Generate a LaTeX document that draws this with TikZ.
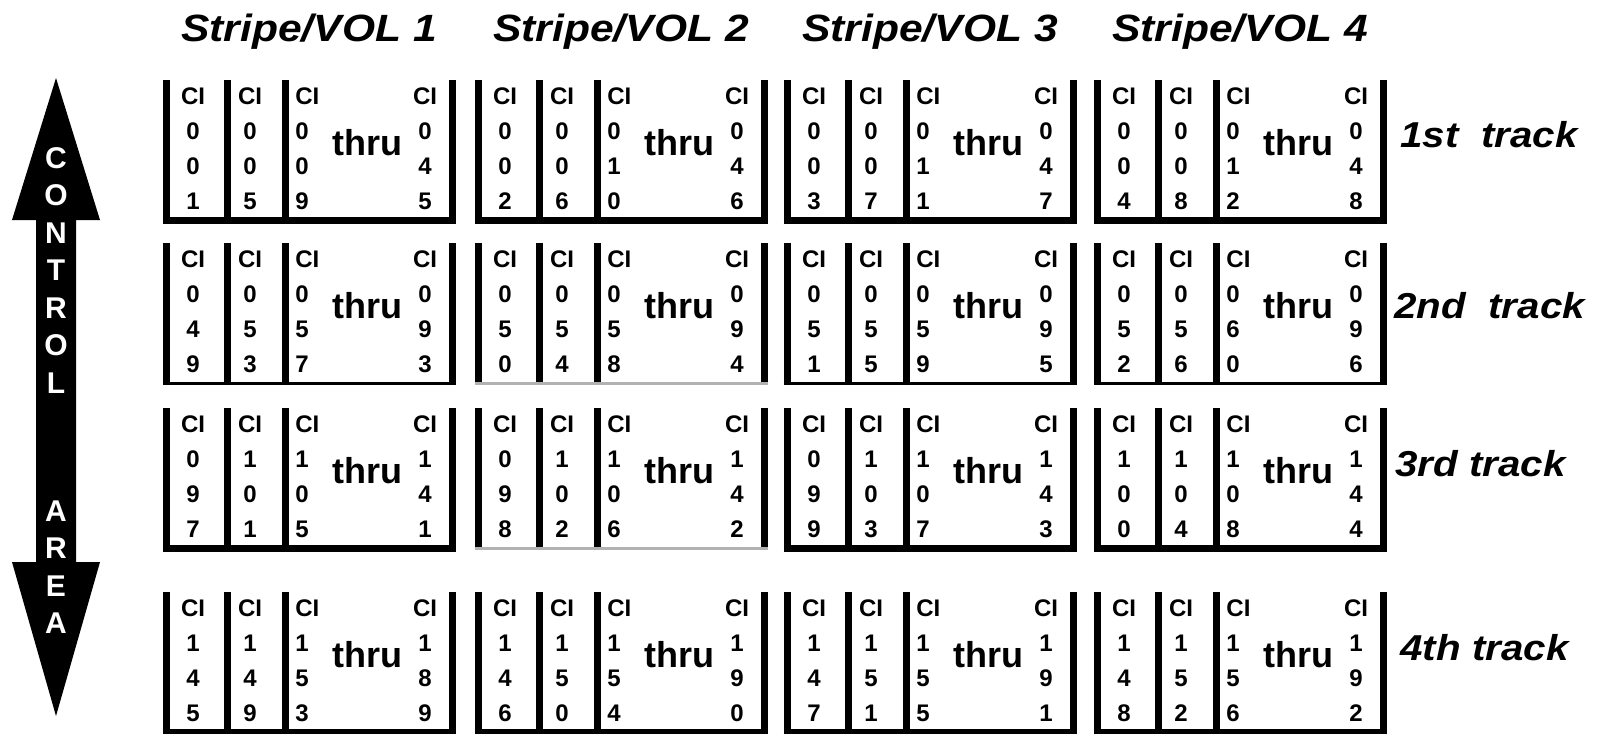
\documentclass[tikz,border=0pt]{standalone}
\usepackage{fontspec}
\setmainfont{Liberation Sans}
\newfontfamily\widefont[FakeStretch=1.12]{Liberation Sans}
\usepackage{tikz}
\usetikzlibrary{positioning}
\tikzstyle{stripebar} = [line width=3.5pt, black]
\tikzstyle{thickbase} = [line width=3.5pt, black]
\tikzstyle{thinbase} = [line width=1.5pt, black]
\tikzstyle{greybase} = [line width=1.5pt, gray!60]
\tikzstyle{cinum} = [inner sep=0pt, anchor=north, align=center, font=\fontsize{12}{17.5}\selectfont\bfseries]
\tikzstyle{cinumleft} = [cinum, anchor=north west, align=left]
\tikzstyle{thrulabel} = [inner sep=0pt, anchor=base, font=\fontsize{18}{18}\selectfont\bfseries]
\tikzstyle{heading} = [inner sep=0pt, anchor=base, font=\widefont\fontsize{19}{19}\selectfont\bfseries\itshape]
\tikzstyle{tracklabel} = [inner sep=0pt, anchor=base west, font=\widefont\fontsize{18}{18}\selectfont\bfseries\itshape]
\tikzstyle{ctrltext} = [inner sep=0pt, anchor=north, align=center, text=white, font=\fontsize{15}{18.75}\selectfont\bfseries]

% one stripe box: name, left x, top y, base style, four columns
\newcommand{\volbox}[8]{%
  \draw [stripebar] (#2,#3) -- (#2,#3+140);
  \draw [stripebar] (#2+61,#3) -- (#2+61,#3+140);
  \draw [stripebar] (#2+119,#3) -- (#2+119,#3+140);
  \draw [stripebar] (#2+286,#3) -- (#2+286,#3+140);
  \draw [#4] (#2-3.5,#3+140) -- (#2+289.5,#3+140);
  \node (#1a) [cinum] at (#2+27,#3+7.5) {CI\\#5};
  \node (#1b) [cinum] at (#2+84,#3+7.5) {CI\\#6};
  \node (#1c) [cinumleft] at (#2+129,#3+7.5) {CI\\#7};
  \node (#1d) [cinum] at (#2+259,#3+7.5) {CI\\#8};
  \node (#1t) [thrulabel] at (#2+201,#3+75) {thru};
}

\begin{document}
\begin{tikzpicture}[x=0.5pt, y=-0.5pt]
\useasboundingbox (0,0) rectangle (1598,733);

% Control area arrow
\fill [black] (56,78) -- (100,220) -- (76,220) -- (76,562) -- (100,562) -- (56,716)
  -- (12,562) -- (36,562) -- (36,220) -- (12,220) -- cycle;
\node (ctrl) [ctrltext] at (56,147) {C\\O\\N\\T\\R\\O\\L};
\node (area) [ctrltext] at (56,500) {A\\R\\E\\A};

% Stripe headings
\node (vol1) [heading] at (309,42) {Stripe/VOL 1};
\node (vol2) [heading] at (621,42) {Stripe/VOL 2};
\node (vol3) [heading] at (930,42) {Stripe/VOL 3};
\node (vol4) [heading] at (1240,42) {Stripe/VOL 4};

% 1st track
\volbox{ta}{166}{80}{thickbase}{0\\0\\1}{0\\0\\5}{0\\0\\9}{0\\4\\5}
\volbox{tb}{478}{80}{thickbase}{0\\0\\2}{0\\0\\6}{0\\1\\0}{0\\4\\6}
\volbox{tc}{787}{80}{thickbase}{0\\0\\3}{0\\0\\7}{0\\1\\1}{0\\4\\7}
\volbox{td}{1097}{80}{thickbase}{0\\0\\4}{0\\0\\8}{0\\1\\2}{0\\4\\8}
\node (track1) [tracklabel] at (1400,148) {1st\ \ track};

% 2nd track
\volbox{ua}{166}{243}{thinbase}{0\\4\\9}{0\\5\\3}{0\\5\\7}{0\\9\\3}
\volbox{ub}{478}{243}{greybase}{0\\5\\0}{0\\5\\4}{0\\5\\8}{0\\9\\4}
\volbox{uc}{787}{243}{thinbase}{0\\5\\1}{0\\5\\5}{0\\5\\9}{0\\9\\5}
\volbox{ud}{1097}{243}{thinbase}{0\\5\\2}{0\\5\\6}{0\\6\\0}{0\\9\\6}
\node (track2) [tracklabel] at (1394,318) {2nd\ \ track};

% 3rd track
\volbox{va}{166}{408}{thickbase}{0\\9\\7}{1\\0\\1}{1\\0\\5}{1\\4\\1}
\volbox{vb}{478}{408}{greybase}{0\\9\\8}{1\\0\\2}{1\\0\\6}{1\\4\\2}
\volbox{vc}{787}{408}{thickbase}{0\\9\\9}{1\\0\\3}{1\\0\\7}{1\\4\\3}
\volbox{vd}{1097}{408}{thickbase}{1\\0\\0}{1\\0\\4}{1\\0\\8}{1\\4\\4}
\node (track3) [tracklabel] at (1395,476) {3rd track};

% 4th track
\volbox{wa}{166}{592}{thickbase}{1\\4\\5}{1\\4\\9}{1\\5\\3}{1\\8\\9}
\volbox{wb}{478}{592}{thickbase}{1\\4\\6}{1\\5\\0}{1\\5\\4}{1\\9\\0}
\volbox{wc}{787}{592}{thickbase}{1\\4\\7}{1\\5\\1}{1\\5\\5}{1\\9\\1}
\volbox{wd}{1097}{592}{thickbase}{1\\4\\8}{1\\5\\2}{1\\5\\6}{1\\9\\2}
\node (track4) [tracklabel] at (1400,660) {4th track};

\end{tikzpicture}
\end{document}
